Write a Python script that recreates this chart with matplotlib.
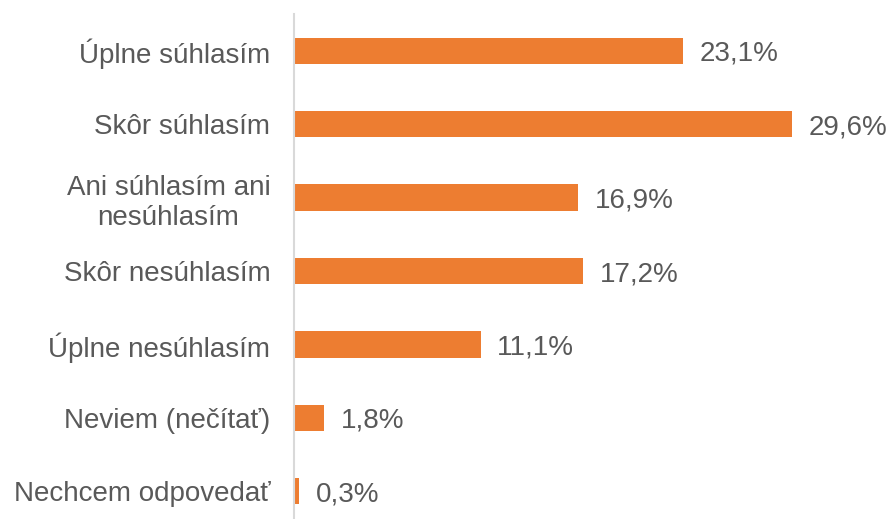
import matplotlib.pyplot as plt

categories = [
    "Úplne súhlasím",
    "Skôr súhlasím",
    "Ani súhlasím ani\nnesúhlasím",
    "Skôr nesúhlasím",
    "Úplne nesúhlasím",
    "Neviem (nečítať)",
    "Nechcem odpovedať",
]
values = [23.1, 29.6, 16.9, 17.2, 11.1, 1.8, 0.3]
labels = ["23,1%", "29,6%", "16,9%", "17,2%", "11,1%", "1,8%", "0,3%"]

plt.rcParams["font.family"] = ["Liberation Sans", "DejaVu Sans"]
text_color = "#595959"

fig = plt.figure(figsize=(8.9, 5.19), dpi=100)
ax = fig.add_axes([0.3303, -0.0173, 0.6615, 0.990])

pos = list(range(len(categories)))
ax.barh(pos, values, height=0.36, color="#ED7D31")
for p, v, lab in zip(pos, values, labels):
    ax.annotate(lab, (v, p), xytext=(12, 0), textcoords="offset points",
                va="center_baseline", ha="left", fontsize=20, color=text_color)

ax.set_xlim(0, 35)
ax.set_ylim(len(categories) - 0.5, -0.5)
ax.set_yticks(pos)
ax.set_yticklabels(categories, fontsize=20, color=text_color, multialignment="center")
ax.tick_params(axis="y", length=0, pad=17)
ax.set_xticks([])
for s in ["top", "right", "bottom"]:
    ax.spines[s].set_visible(False)
ax.spines["left"].set_color("#D9D9D9")
ax.spines["left"].set_linewidth(1.5)

fig.savefig("out.png", dpi=100)
